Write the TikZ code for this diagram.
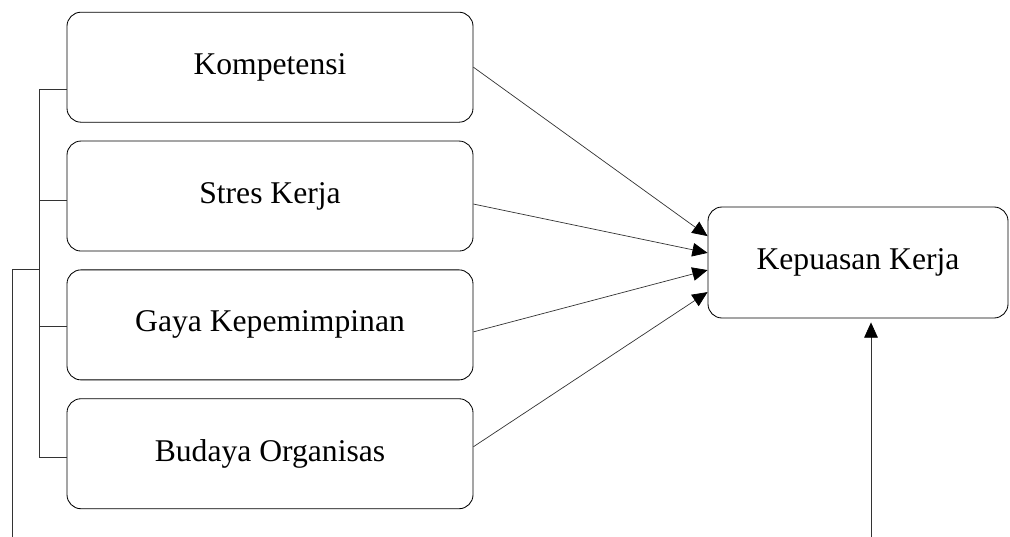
\documentclass[tikz,border=0pt]{standalone}
\usepackage{fontspec}
\setmainfont{Liberation Serif}
\usetikzlibrary{arrows.meta, positioning, calc}
\tikzset{
    construct/.style={
        rectangle,
        rounded corners=0.35cm,
        draw=black,
        line width=0.6pt,
        minimum width=10.15cm,
        minimum height=2.75cm,
        fill=white,
        font=\fontsize{22.5}{27}\selectfont
    },
    outcome/.style={
        construct,
        minimum width=7.5cm,
        minimum height=2.775cm
    },
    wire/.style={
        draw=black!80,
        line width=0.5pt,
        -{Triangle[length=0.38cm,width=0.34cm,color=black]}
    },
    link/.style={
        draw=black!80,
        line width=0.6pt
    }
}

\begin{document}
\begin{tikzpicture}
\useasboundingbox (0,0) rectangle (25.25,-13.425);

% Independent variables
\node[construct] (komp) at (6.75,-1.68) {Kompetensi};
\node[construct, below=0.45cm of komp] (stres) {Stres Kerja};
\node[construct, below=0.45cm of stres] (gaya) {Gaya Kepemimpinan};
\node[construct, below=0.45cm of gaya] (budaya) {Budaya Organisas};

% Dependent variable
\node[outcome] (kepuasan) at (21.45,-6.5625) {Kepuasan Kerja};

% Bracket joining the predictors
\coordinate (bracket_top) at ($([yshift=-0.56cm]komp.west)+(-0.67,0)$);
\coordinate (bracket_bot) at ($([yshift=-0.1cm]budaya.west)+(-0.67,0)$);
\draw[link] ([yshift=-0.56cm]komp.west) -- (bracket_top) -- (bracket_bot) -- ([yshift=-0.1cm]budaya.west);
\draw[link] ([yshift=-0.1cm]stres.west) -- ++(-0.67,0);
\draw[link] ([yshift=-0.03cm]gaya.west) -- ++(-0.67,0);

\coordinate (joint) at (1.0,-6.725);
\coordinate (ext_left) at (0.3,-13.425);
\draw[link] (ext_left) |- (joint);

% Paths to Kepuasan Kerja
\draw[wire] (komp.east) -- ([yshift=0.66cm]kepuasan.west);
\draw[wire] ([yshift=-0.2cm]stres.east) -- ([yshift=0.24cm]kepuasan.west);
\draw[wire] ([yshift=-0.175cm]gaya.east) -- ([yshift=-0.19cm]kepuasan.west);
\draw[wire] ([yshift=0.175cm]budaya.east) -- ([yshift=-0.74cm]kepuasan.west);

\coordinate (ext_bottom) at (21.775,-13.425);
\draw[wire] (ext_bottom) -- ([xshift=0.325cm,yshift=-0.1cm]kepuasan.south);

\end{tikzpicture}
\end{document}
